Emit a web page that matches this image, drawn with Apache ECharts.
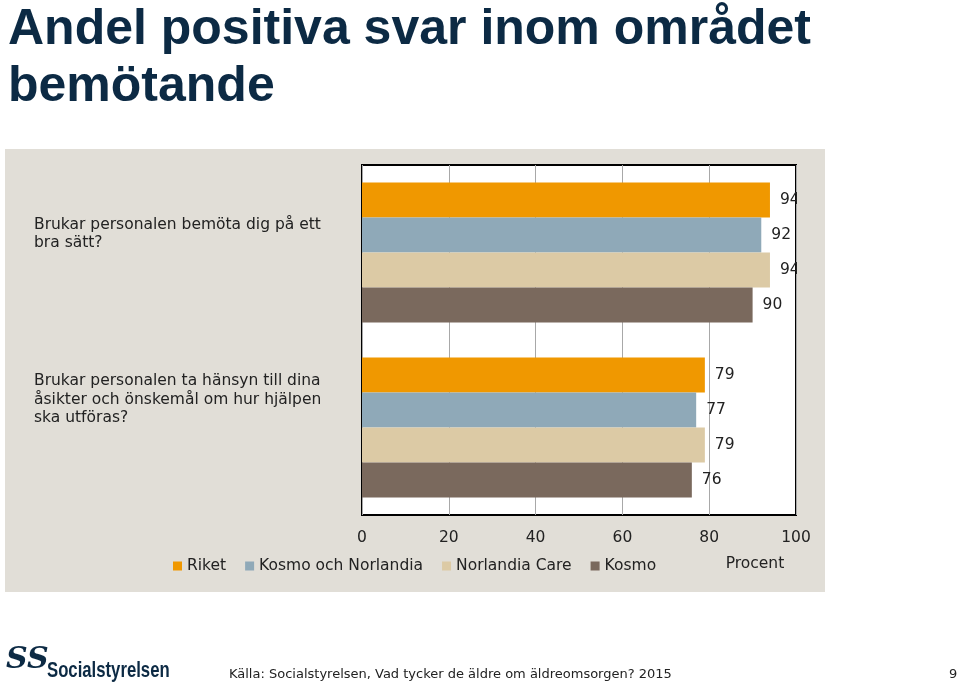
<!DOCTYPE html>
<html><head><meta charset="utf-8">
<script src="https://cdn.jsdelivr.net/npm/echarts@6/dist/echarts.min.js"></script>
<style>html,body{margin:0;padding:0;background:#fff}#c{width:960px;height:688px}</style>
</head><body><div id="c"></div>
<script>
const categories = [
  'Brukar personalen bemöta dig på ett\nbra sätt?',
  'Brukar personalen ta hänsyn till dina\nåsikter och önskemål om hur hjälpen\nska utföras?'
];
const seriesNames = ['Riket', 'Kosmo och Norlandia', 'Norlandia Care', 'Kosmo'];
const riket = [94, 79];
const kosmoOchNorlandia = [92, 77];
const norlandiaCare = [94, 79];
const kosmo = [90, 76];
const xTicks = [0, 20, 40, 60, 80, 100];

const colors = ['#f09800', '#8fa9b8', '#dccaa5', '#7a695d'];
const panel = '#e1ded7';
const font = 'DejaVu Sans';
const values = [riket, kosmoOchNorlandia, norlandiaCare, kosmo];

const chart = echarts.init(document.getElementById('c'));
chart.setOption({
  animation: false,
  textStyle: { fontFamily: font },
  title: {
    text: 'Andel positiva svar inom området\nbemötande',
    left: 3, top: -3,
    textStyle: { fontFamily: 'Liberation Sans', fontWeight: 'bold', fontSize: 50, lineHeight: 57, color: '#0c2a44' }
  },
  graphic: [
    { type: 'rect', z: -10, silent: true, shape: { x: 5, y: 149, width: 820, height: 443 }, style: { fill: panel } },
    { type: 'rect', z: 100, silent: true, shape: { x: 797, y: 160, width: 28, height: 360 }, style: { fill: panel } },
    { type: 'text', z: 100, x: 6, y: 645, style: { text: 'SS', font: 'italic bold 30px "DejaVu Serif"', fill: '#0c2a44' } },
    { type: 'text', z: 100, x: 47, y: 660, scaleX: 0.76, style: { text: 'Socialstyrelsen', font: 'bold 22px "Liberation Sans"', fill: '#0c2a44' } },
    { type: 'text', z: 100, x: 229, y: 668, style: { text: 'Källa: Socialstyrelsen, Vad tycker de äldre om äldreomsorgen? 2015', font: '13px "DejaVu Sans"', fill: '#222' } },
    { type: 'text', z: 100, x: 949, y: 668, style: { text: '9', font: '13px "DejaVu Sans"', fill: '#222' } }
  ],
  legend: {
    left: 173, top: 558, padding: 0,
    itemWidth: 9, itemHeight: 9, itemGap: 19,
    icon: 'rect',
    data: seriesNames,
    textStyle: { fontSize: 15.5, color: '#222', fontFamily: font }
  },
  grid: {
    left: 362, right: 164, top: 165, bottom: 173,
    show: true, backgroundColor: '#fff', borderColor: '#000', borderWidth: 2
  },
  xAxis: {
    type: 'value', min: 0, max: 100, interval: 20,
    axisLine: { show: false }, axisTick: { show: false },
    splitLine: { show: true, lineStyle: { color: '#a8a8a8', width: 1 } },
    axisLabel: { color: '#222', fontSize: 15.5, margin: 15, formatter: v => xTicks.includes(v) ? String(v) : '' },
    name: 'Procent', nameLocation: 'middle', nameGap: 41,
    nameTextStyle: { color: '#222', fontSize: 15.5, padding: [0, 0, 0, 352] }
  },
  yAxis: {
    type: 'category', inverse: true, data: categories,
    axisLine: { show: false }, axisTick: { show: false },
    axisLabel: { align: 'left', verticalAlign: 'bottom', margin: 328, color: '#222', fontSize: 15.5, lineHeight: 18.5 }
  },
  series: seriesNames.map((n, i) => ({
    name: n, type: 'bar', data: values[i],
    barWidth: 35, barGap: '0%',
    itemStyle: { color: colors[i] },
    label: { show: true, position: 'right', distance: 10, color: '#222', fontSize: 15.5 }
  }))
});
</script></body></html>
